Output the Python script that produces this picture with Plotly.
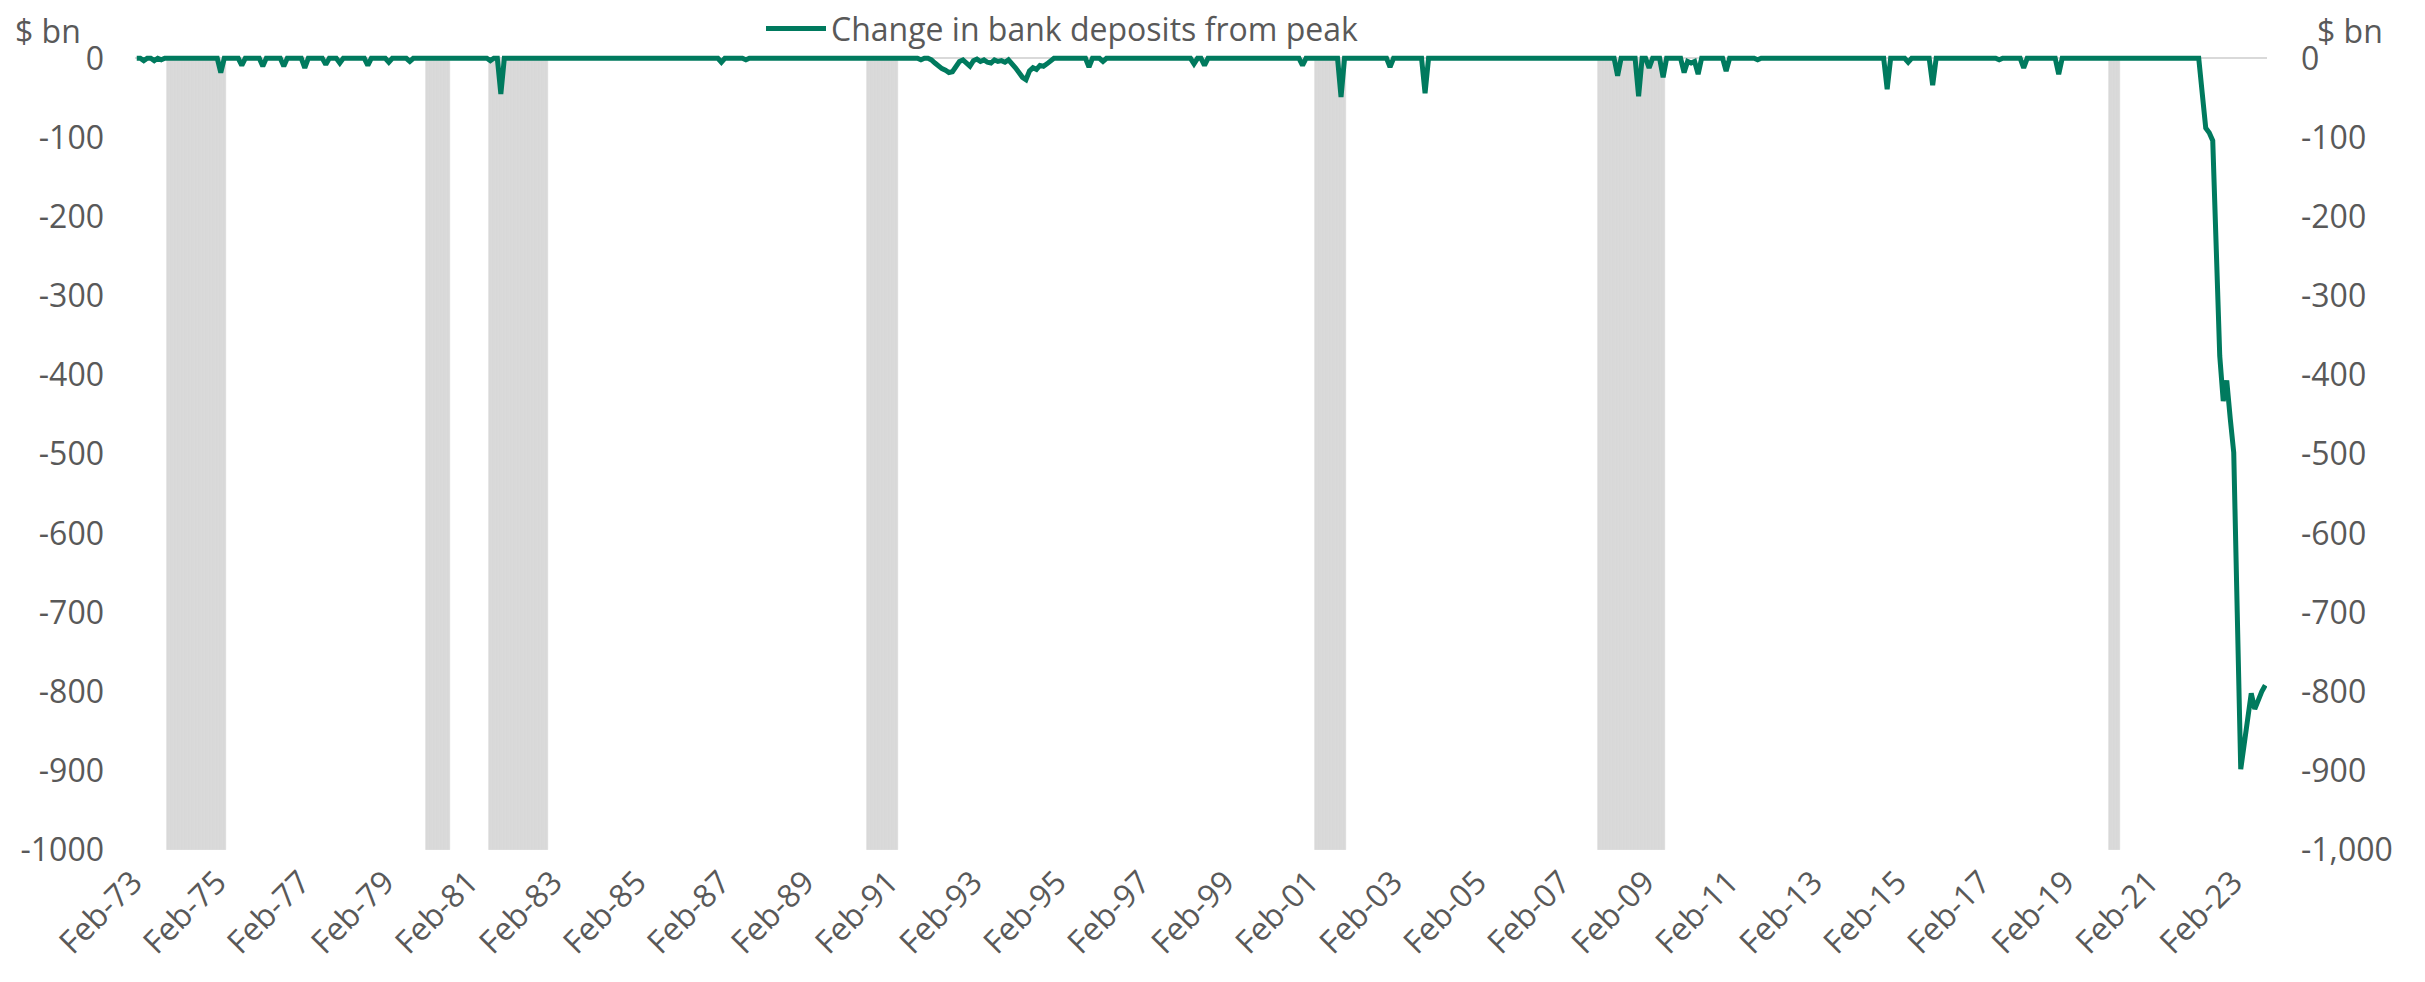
import pandas as pd
import plotly.graph_objects as go

# ---------------- data ----------------
first_month = "1973-02-01"

# Change in bank deposits from peak ($ bn), monthly, Feb-73 .. Oct-23
deposit_change_bn = [
    # 1973 (Feb-Dec)
    0, 0, -3, 0, 0, -3, 0, -2, 0, 0, 0,
    # 1974
    0, 0, 0, 0, 0, 0, 0, 0, 0, 0, 0, 0,
    # 1975
    0, -18, 0, 0, 0, 0, 0, -9, 0, 0, 0, 0,
    # 1976
    0, -10, 0, 0, 0, 0, 0, -10, 0, 0, 0, 0,
    # 1977
    0, -12, 0, 0, 0, 0, 0, -8, 0, 0, 0, -6,
    # 1978
    0, 0, 0, 0, 0, 0, 0, -9, 0, 0, 0, 0,
    # 1979
    0, -5, 0, 0, 0, 0, 0, -4, 0, 0, 0, 0,
    # 1980
    0, 0, 0, 0, 0, 0, 0, 0, 0, 0, 0, 0,
    # 1981
    0, 0, 0, 0, 0, 0, -3, 0, 0, -45, 0, 0,
    # 1982
    0, 0, 0, 0, 0, 0, 0, 0, 0, 0, 0, 0,
    # 1983
    0, 0, 0, 0, 0, 0, 0, 0, 0, 0, 0, 0,
    # 1984
    0, 0, 0, 0, 0, 0, 0, 0, 0, 0, 0, 0,
    # 1985
    0, 0, 0, 0, 0, 0, 0, 0, 0, 0, 0, 0,
    # 1986
    0, 0, 0, 0, 0, 0, 0, 0, 0, 0, 0, 0,
    # 1987
    -5, 0, 0, 0, 0, 0, 0, -2, 0, 0, 0, 0,
    # 1988
    0, 0, 0, 0, 0, 0, 0, 0, 0, 0, 0, 0,
    # 1989
    0, 0, 0, 0, 0, 0, 0, 0, 0, 0, 0, 0,
    # 1990
    0, 0, 0, 0, 0, 0, 0, 0, 0, 0, 0, 0,
    # 1991
    0, 0, 0, 0, 0, 0, 0, 0, 0, -2, 0, 0,
    # 1992
    -2, -6, -10, -13, -15, -18, -17, -10, -4, -2, -7, -10,
    # 1993
    -3, -1, -4, -2, -5, -6, -2, -4, -3, -5, -2, -6,
    # 1994
    -12, -18, -24, -27, -16, -12, -14, -9, -10, -7, -3, 0,
    # 1995
    0, 0, 0, 0, 0, 0, 0, 0, 0, -11, 0, 0,
    # 1996
    0, -4, 0, 0, 0, 0, 0, 0, 0, 0, 0, 0,
    # 1997
    0, 0, 0, 0, 0, 0, 0, 0, 0, 0, 0, 0,
    # 1998
    0, 0, 0, -7, 0, 0, -9, 0, 0, 0, 0, 0,
    # 1999
    0, 0, 0, 0, 0, 0, 0, 0, 0, 0, 0, 0,
    # 2000
    0, 0, 0, 0, 0, 0, 0, 0, 0, 0, -9, 0,
    # 2001
    0, 0, 0, 0, 0, 0, 0, 0, 0, -49, 0, 0,
    # 2002
    0, 0, 0, 0, 0, 0, 0, 0, 0, 0, 0, -11,
    # 2003
    0, 0, 0, 0, 0, 0, 0, 0, 0, -44, 0, 0,
    # 2004
    0, 0, 0, 0, 0, 0, 0, 0, 0, 0, 0, 0,
    # 2005
    0, 0, 0, 0, 0, 0, 0, 0, 0, 0, 0, 0,
    # 2006
    0, 0, 0, 0, 0, 0, 0, 0, 0, 0, 0, 0,
    # 2007
    0, 0, 0, 0, 0, 0, 0, 0, 0, 0, 0, 0,
    # 2008
    0, 0, 0, 0, -22, 0, 0, 0, 0, 0, -48, 0,
    # 2009
    0, -12, 0, 0, 0, -24, 0, 0, 0, 0, 0, -18,
    # 2010
    -4, -6, -4, -20, 0, 0, 0, 0, 0, 0, 0, -16,
    # 2011
    0, 0, 0, 0, 0, 0, 0, 0, -2, 0, 0, 0,
    # 2012
    0, 0, 0, 0, 0, 0, 0, 0, 0, 0, 0, 0,
    # 2013
    0, 0, 0, 0, 0, 0, 0, 0, 0, 0, 0, 0,
    # 2014
    0, 0, 0, 0, 0, 0, 0, 0, 0, -39, 0, 0,
    # 2015
    0, 0, 0, -5, 0, 0, 0, 0, 0, 0, -34, 0,
    # 2016
    0, 0, 0, 0, 0, 0, 0, 0, 0, 0, 0, 0,
    # 2017
    0, 0, 0, 0, 0, -2, 0, 0, 0, 0, 0, 0,
    # 2018
    -12, 0, 0, 0, 0, 0, 0, 0, 0, 0, -20, 0,
    # 2019
    0, 0, 0, 0, 0, 0, 0, 0, 0, 0, 0, 0,
    # 2020
    0, 0, 0, 0, 0, 0, 0, 0, 0, 0, 0, 0,
    # 2021
    0, 0, 0, 0, 0, 0, 0, 0, 0, 0, 0, 0,
    # 2022
    0, 0, 0, -44, -88, -94, -104, -240, -376, -433, -407, -455,
    # 2023 (Jan-Oct)
    -498, -700, -898, -866, -834, -802, -822, -810, -800, -792,
]

# Recession periods (shaded)
recession_start = ["Nov-73", "Jan-80", "Jul-81", "Jul-90", "Mar-01", "Dec-07", "Feb-20"]
recession_end = ["Mar-75", "Jul-80", "Nov-82", "Mar-91", "Nov-01", "Jun-09", "Apr-20"]
recession_depth = -1000

x_tick_labels = ["Feb-73", "Feb-75", "Feb-77", "Feb-79", "Feb-81", "Feb-83", "Feb-85",
                 "Feb-87", "Feb-89", "Feb-91", "Feb-93", "Feb-95", "Feb-97", "Feb-99",
                 "Feb-01", "Feb-03", "Feb-05", "Feb-07", "Feb-09", "Feb-11", "Feb-13",
                 "Feb-15", "Feb-17", "Feb-19", "Feb-21", "Feb-23"]

y_tick_values = [0, -100, -200, -300, -400, -500, -600, -700, -800, -900, -1000]
y_left_text = ["0", "-100", "-200", "-300", "-400", "-500", "-600", "-700", "-800", "-900", "-1000"]
y_right_text = ["0", "-100", "-200", "-300", "-400", "-500", "-600", "-700", "-800", "-900", "-1,000"]

series_name = "Change in bank deposits from peak"
unit_label = "$ bn"

# ---------------- build ----------------
months = pd.date_range(first_month, periods=len(deposit_change_bn), freq="MS").strftime("%b-%y").tolist()
pos = {m: i for i, m in enumerate(months)}
recession_bar = [None] * len(months)
for s, e in zip(recession_start, recession_end):
    for i in range(pos[s], pos[e] + 1):
        recession_bar[i] = recession_depth

GREEN = "#007A5E"
GREY_BAND = "#D9D9D9"
TXT = "#595959"
FONT = "Open Sans"
FS = 32

fig = go.Figure()
fig.add_trace(go.Bar(
    x=months, y=recession_bar, marker=dict(color=GREY_BAND, line=dict(width=0.6, color=GREY_BAND)),
    showlegend=False, hoverinfo="skip", yaxis="y",
))
fig.add_trace(go.Scatter(
    x=months, y=deposit_change_bn, mode="lines", name=series_name,
    line=dict(color=GREEN, width=5), yaxis="y2",
))

# page body has an 8px margin -> figure coordinates = page coordinates - 8
OFF = 8
W, H = 2425 - OFF, 982 - OFF
plot_left, plot_right = 135 - OFF, 2267 - OFF
zero_y, bottom_y = 58.3 - OFF, 850 - OFF
mt = 2
ml, mr = plot_left, W - plot_right
mb = H - bottom_y
pw = plot_right - plot_left
ph = bottom_y - mt
units_per_px = 1000 / (bottom_y - zero_y)
y_top = (zero_y - mt) * units_per_px
yr = [-1000, y_top]

def px_x(page_px):
    return (page_px - OFF - ml) / pw

def px_y(page_py):
    return (bottom_y - (page_py - OFF)) / ph

fig.update_layout(
    width=W, height=H,
    margin=dict(l=ml, r=mr, t=mt, b=mb, pad=0, autoexpand=False),
    paper_bgcolor="white", plot_bgcolor="white",
    font=dict(family=FONT, size=FS, color=TXT),
    bargap=0,
    xaxis=dict(
        type="category", categoryorder="array", categoryarray=months,
        range=[-0.5, len(months) - 0.5],
        tickmode="array", tickvals=x_tick_labels, ticktext=x_tick_labels,
        tickangle=-45, tickfont=dict(size=FS, color=TXT, family=FONT),
        showgrid=False, showline=False, zeroline=False, ticks="",
        ticklabelstandoff=6, ticklabelshift=-4, automargin=False,
    ),
    yaxis=dict(
        range=yr, tickmode="array", tickvals=y_tick_values, ticktext=y_left_text,
        showgrid=False, zeroline=True, zerolinecolor=GREY_BAND, zerolinewidth=2,
        showline=False, ticks="", tickfont=dict(size=FS, color=TXT, family=FONT),
        ticklabelstandoff=30, automargin=False,
    ),
    yaxis2=dict(
        range=yr, overlaying="y", side="right", matches="y",
        tickmode="array", tickvals=y_tick_values, ticktext=y_right_text,
        showgrid=False, zeroline=False, showline=False, ticks="",
        tickfont=dict(size=FS, color=TXT, family=FONT),
        ticklabelstandoff=33, automargin=False,
    ),
    legend=dict(
        orientation="h", x=px_x(761), y=px_y(28.6), xanchor="left", yanchor="middle",
        font=dict(size=FS, color=TXT, family=FONT), bgcolor="rgba(0,0,0,0)",
        itemwidth=60,
    ),
    annotations=[
        dict(text=unit_label, xref="paper", yref="paper", x=px_x(14), y=px_y(30),
             xanchor="left", yanchor="middle", showarrow=False, borderpad=0,
             font=dict(size=FS, color=TXT, family=FONT)),
        dict(text=unit_label, xref="paper", yref="paper", x=px_x(2316), y=px_y(30),
             xanchor="left", yanchor="middle", showarrow=False, borderpad=0,
             font=dict(size=FS, color=TXT, family=FONT)),
    ],
    showlegend=True,
)

fig.write_html("out.html")
